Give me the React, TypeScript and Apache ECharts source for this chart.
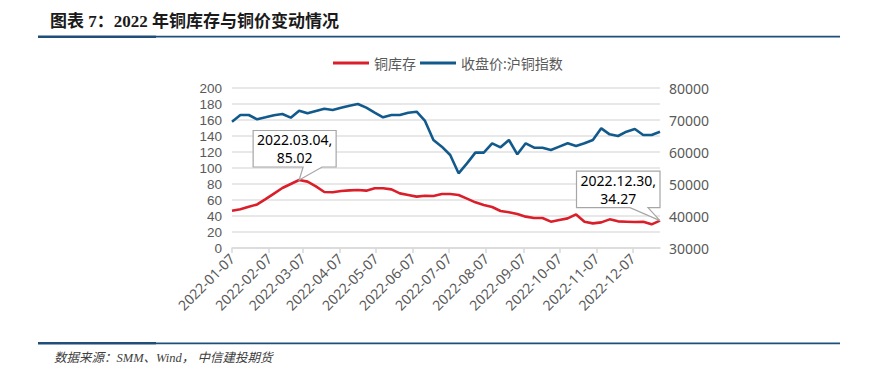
import React, { useEffect, useRef } from "react";
import * as echarts from "echarts";

const weeks = [
  "2022-01-07", "2022-01-14", "2022-01-21", "2022-01-28",
  "2022-02-04", "2022-02-11", "2022-02-18", "2022-02-25",
  "2022-03-04", "2022-03-11", "2022-03-18", "2022-03-25",
  "2022-04-01", "2022-04-08", "2022-04-15", "2022-04-22", "2022-04-29",
  "2022-05-06", "2022-05-13", "2022-05-20", "2022-05-27",
  "2022-06-03", "2022-06-10", "2022-06-17", "2022-06-24",
  "2022-07-01", "2022-07-08", "2022-07-15", "2022-07-22", "2022-07-29",
  "2022-08-05", "2022-08-12", "2022-08-19", "2022-08-26",
  "2022-09-02", "2022-09-09", "2022-09-16", "2022-09-23", "2022-09-30",
  "2022-10-07", "2022-10-14", "2022-10-21", "2022-10-28",
  "2022-11-04", "2022-11-11", "2022-11-18", "2022-11-25",
  "2022-12-02", "2022-12-09", "2022-12-16", "2022-12-23", "2022-12-30",
];

// 铜库存 (left axis)
const inventory = [
  46.5, 48.5, 51.5, 54.5, 61, 68, 75, 80, 85.02, 83, 77, 70,
  69.6, 71.2, 72, 72.5, 71.7, 74.6, 74.6, 73.3, 68.3, 66.3, 64.2, 65.4,
  65, 67.5, 67.5, 66.3, 61.7, 57.1, 53.8, 51.3, 46.3, 44.6, 42.5, 39.2,
  37.5, 37.5, 32.9, 35, 37, 42, 32.9, 30.8, 32, 35.8, 33.3, 32.9,
  32.5, 32.9, 29.6, 34.27,
];

// 收盘价:沪铜指数 (right axis)
const price = [
  69480, 71560, 71560, 70210, 70830, 71460, 71880, 70730, 72920, 72080, 72810, 73540,
  73130, 73850, 74480, 75000, 73850, 72290, 70830, 71560, 71560, 72290, 72600, 69690,
  63750, 61670, 59060, 53340, 56460, 59790, 59790, 62710, 61460, 63750, 59270, 62710,
  61350, 61350, 60630, 61670, 62710, 61880, 62710, 63750, 67400, 65520, 65000, 66350,
  67190, 65310, 65310, 66350,
];

const monthTicks = [
  "2022-01-07", "2022-02-07", "2022-03-07", "2022-04-07", "2022-05-07", "2022-06-07",
  "2022-07-07", "2022-08-07", "2022-09-07", "2022-10-07", "2022-11-07", "2022-12-07",
];

const seriesNames = ["铜库存", "收盘价:沪铜指数"];
const calloutDates = ["2022-03-04", "2022-12-30"];
const calloutValues = [85.02, 34.27];
const calloutLabels = ["2022.03.04,\n85.02", "2022.12.30,\n34.27"];

const titleText = "图表 7：2022 年铜库存与铜价变动情况";
const sourceText = "数据来源：SMM、Wind， 中信建投期货";

// callout box geometry relative to the annotated point
const calloutShapes = [
  { left: -46, right: 37, top: -49.5, bottom: -13, tailA: 4, tailB: 23 },
  { left: -83.5, right: 0, top: -49.5, bottom: -13, tailA: -30, tailB: -12 },
];

const ts = (d: string) => Date.parse(d + "T00:00:00Z");
const fmt = (v: number) => new Date(v).toISOString().slice(0, 10);

const RED = "#DA1F2A";
const BLUE = "#125A8C";
const RULE = "#1F4E79";
const AXIS_TEXT = "#595959";
const FONT = "'Noto Sans', 'Noto Sans CJK SC', sans-serif";
const COMPACT_FONT = "'Liberation Sans', Arial, sans-serif";

export default function App() {
  const ref = useRef<HTMLDivElement>(null);

  useEffect(() => {
    if (!ref.current) return;
    const chart = echarts.init(ref.current, undefined, { renderer: "svg" });
    const xMin = ts(weeks[0]);
    const xMax = ts(weeks[weeks.length - 1]);

    chart.setOption({
      animation: false,
      backgroundColor: "#ffffff",
      textStyle: { fontFamily: FONT },
      legend: {
        data: seriesNames,
        left: 328,
        top: 51,
        itemWidth: 36,
        itemHeight: 3,
        itemGap: 4,
        icon: "rect",
        textStyle: { fontSize: 14, color: AXIS_TEXT, fontFamily: FONT },
      },
      grid: { left: 232, right: 218, top: 88, bottom: 130 },
      xAxis: {
        type: "value",
        min: xMin,
        max: xMax,
        splitLine: { show: false },
        axisLine: { show: true, lineStyle: { color: "#d9d9d9", width: 1.5 } },
        axisTick: {
          show: true,
          length: 5,
          customValues: monthTicks.map(ts),
          lineStyle: { color: "#d9d9d9", width: 1.5 },
        },
        axisLabel: {
          customValues: monthTicks.map(ts),
          formatter: (v: number) => fmt(v),
          rotate: 45,
          fontSize: 14,
          color: AXIS_TEXT,
          margin: 8,
          fontFamily: FONT,
        },
      },
      yAxis: [
        {
          type: "value",
          min: 0,
          max: 200,
          interval: 20,
          axisLine: { show: false },
          axisTick: { show: false },
          axisLabel: {
            fontSize: 13.5,
            lineHeight: 14,
            color: AXIS_TEXT,
            margin: 10,
            fontFamily: COMPACT_FONT,
            formatter: (v: number) => String(v),
          },
          splitLine: { show: true, lineStyle: { color: "#e0e0e0", width: 1.5 } },
        },
        {
          type: "value",
          min: 30000,
          max: 80000,
          interval: 10000,
          position: "right",
          axisLine: { show: false },
          axisTick: { show: false },
          axisLabel: {
            fontSize: 14,
            lineHeight: 16,
            color: AXIS_TEXT,
            margin: 9,
            fontFamily: FONT,
            formatter: (v: number) => String(v),
          },
          splitLine: { show: false },
        },
      ],
      series: [
        {
          name: seriesNames[0],
          type: "line",
          yAxisIndex: 0,
          symbol: "none",
          lineStyle: { color: RED, width: 2.6 },
          itemStyle: { color: RED },
          data: weeks.map((d, i) => [ts(d), inventory[i]]),
        },
        {
          name: seriesNames[1],
          type: "line",
          yAxisIndex: 1,
          symbol: "none",
          lineStyle: { color: BLUE, width: 2.6 },
          itemStyle: { color: BLUE },
          data: weeks.map((d, i) => [ts(d), price[i]]),
        },
      ],
    });

    const graphics: any[] = [
      {
        type: "text",
        left: 50,
        top: 13,
        style: {
          text: titleText,
          fontSize: 17,
          fontWeight: "bold",
          fontFamily: "'Liberation Serif', 'Noto Sans CJK SC', serif",
          fill: "#1a1a1a",
        },
      },
      { type: "rect", shape: { x: 38, y: 35.5, width: 118, height: 2.6 }, style: { fill: RULE } },
      { type: "rect", shape: { x: 156, y: 35.8, width: 684, height: 1.6 }, style: { fill: RULE } },
      { type: "rect", shape: { x: 38, y: 342, width: 118, height: 2.6 }, style: { fill: RULE } },
      { type: "rect", shape: { x: 156, y: 342.4, width: 684, height: 1.8 }, style: { fill: RULE } },
      {
        type: "text",
        left: 54,
        top: 352,
        style: {
          text: sourceText,
          fontSize: 12.5,
          fontStyle: "italic",
          fontFamily: "'Liberation Serif', 'Noto Sans CJK SC', serif",
          fill: "#404040",
        },
      },
    ];

    calloutDates.forEach((d, k) => {
      const p = chart.convertToPixel({ xAxisIndex: 0, yAxisIndex: 0 }, [ts(d), calloutValues[k]]) as number[];
      const [px, py] = p;
      const s = calloutShapes[k];
      const L = px + s.left, R = px + s.right, T = py + s.top, B = py + s.bottom;
      graphics.push({
        type: "polygon",
        z: 100,
        shape: {
          points: [
            [L, T], [R, T], [R, B], [px + s.tailB, B], [px, py], [px + s.tailA, B], [L, B],
          ],
        },
        style: { fill: "#ffffff", stroke: "#a6a6a6", lineWidth: 1.2 },
      });
      graphics.push({
        type: "text",
        z: 101,
        x: (L + R) / 2,
        y: (T + B) / 2,
        style: {
          text: calloutLabels[k],
          align: "center",
          verticalAlign: "middle",
          fontSize: 14,
          lineHeight: 18,
          fontFamily: FONT,
          fill: "#000000",
        },
      });
    });

    chart.setOption({ graphic: graphics });

    return () => chart.dispose();
  }, []);

  return (
    <div
      ref={ref}
      style={{ position: "fixed", left: 0, top: 0, width: 878, height: 378, background: "#fff" }}
    />
  );
}
